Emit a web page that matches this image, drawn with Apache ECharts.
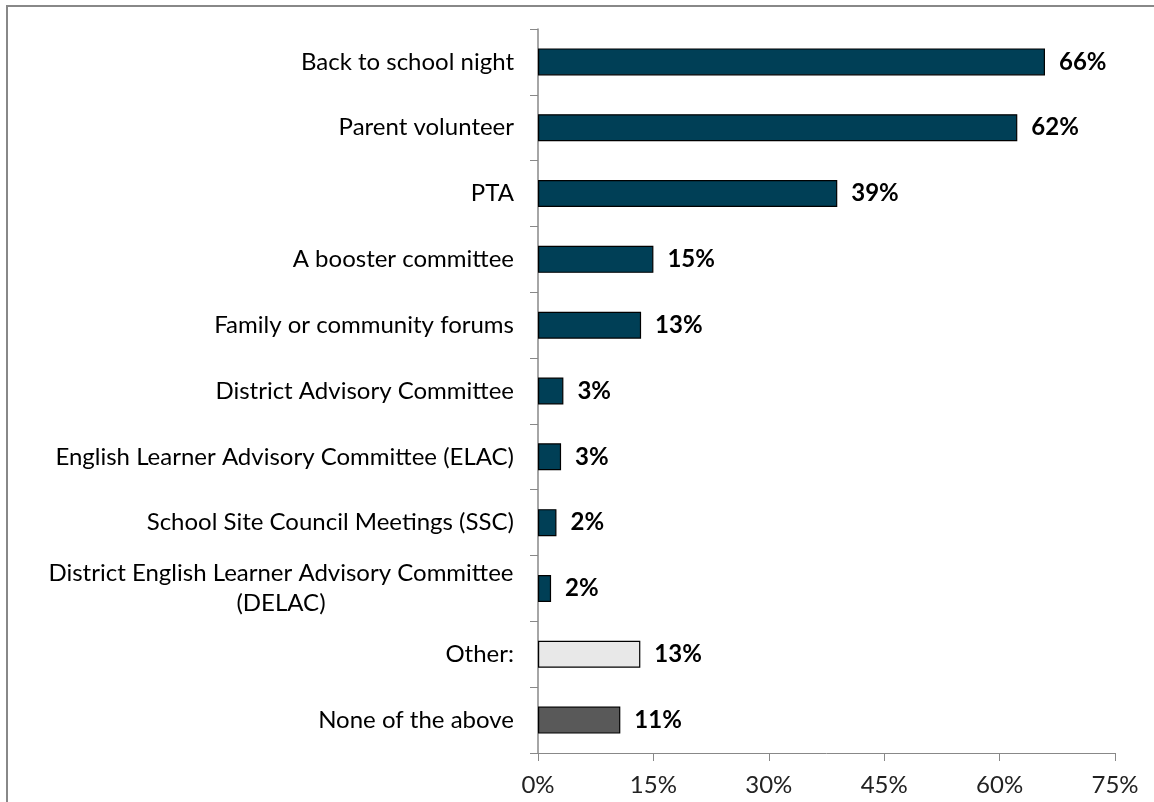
<!DOCTYPE html>
<html>
<head>
<meta charset="utf-8">
<script src="https://cdn.jsdelivr.net/npm/echarts@6/dist/echarts.min.js"></script>
<style>
html,body{margin:0;padding:0;background:#fff;}
#chart{width:1154px;height:802px;}
</style>
</head>
<body>
<div id="chart"></div>
<script>
const categories = [
  'Back to school night',
  'Parent volunteer',
  'PTA',
  'A booster committee',
  'Family or community forums',
  'District Advisory Committee',
  'English Learner Advisory Committee (ELAC)',
  'School Site Council Meetings (SSC)',
  'District English Learner Advisory Committee\n(DELAC)',
  'Other:',
  'None of the above'
];
const values = [65.9, 62.3, 38.9, 15.0, 13.4, 3.3, 3.0, 2.4, 1.7, 13.3, 10.7];
const valueLabels = ['66%', '62%', '39%', '15%', '13%', '3%', '3%', '2%', '2%', '13%', '11%'];
const barColors = ['#003F56','#003F56','#003F56','#003F56','#003F56','#003F56','#003F56','#003F56','#003F56','#E8E8E8','#595959'];
const xTicks = [0, 15, 30, 45, 60, 75];

const FONT = 'Lato';
const FS = 24;
const chart = echarts.init(document.getElementById('chart'), null, {renderer: 'canvas'});
chart.setOption({
  animation: false,
  backgroundColor: '#fff',
  graphic: [{
    type: 'rect',
    shape: {x: 7, y: 6, width: 1300, height: 1000},
    style: {fill: 'none', stroke: '#888', lineWidth: 2},
    silent: true, z: 100
  }],
  grid: {left: 538, right: 39, top: 29, bottom: 49, containLabel: false},
  xAxis: {
    type: 'value',
    min: xTicks[0], max: xTicks[xTicks.length - 1], interval: 15,
    axisLine: {show: true, lineStyle: {color: '#888', width: 1}},
    axisTick: {show: true, length: 8, lineStyle: {color: '#888'}},
    splitLine: {show: false},
    axisLabel: {formatter: v => v + '%', color: '#222', fontSize: FS, fontFamily: FONT, margin: 20}
  },
  yAxis: {
    type: 'category',
    inverse: true,
    data: categories,
    axisLine: {show: true, lineStyle: {color: '#888', width: 1.5}},
    axisTick: {show: true, length: 8, lineStyle: {color: '#888'}},
    axisLabel: {
      color: '#000', fontSize: FS, fontFamily: FONT, margin: 24, lineHeight: 30,
      formatter: function (v) {
        if (v.indexOf('\n') >= 0) {
          return v.split('\n').map(s => '{c|' + s + '}').join('\n');
        }
        return v;
      },
      rich: {c: {width: 466, align: 'center', fontSize: FS, fontFamily: FONT, color: '#000', lineHeight: 30}}
    }
  },
  series: [{
    type: 'bar',
    data: values.map((v, i) => ({value: v, itemStyle: {color: barColors[i]}})),
    barWidth: '41%',
    itemStyle: {borderColor: '#000', borderWidth: 1.2},
    label: {
      show: true, position: 'right', distance: 14,
      formatter: p => valueLabels[p.dataIndex],
      color: '#000', fontWeight: 'bold', fontSize: FS, fontFamily: FONT
    }
  }]
});
</script>
</body>
</html>
